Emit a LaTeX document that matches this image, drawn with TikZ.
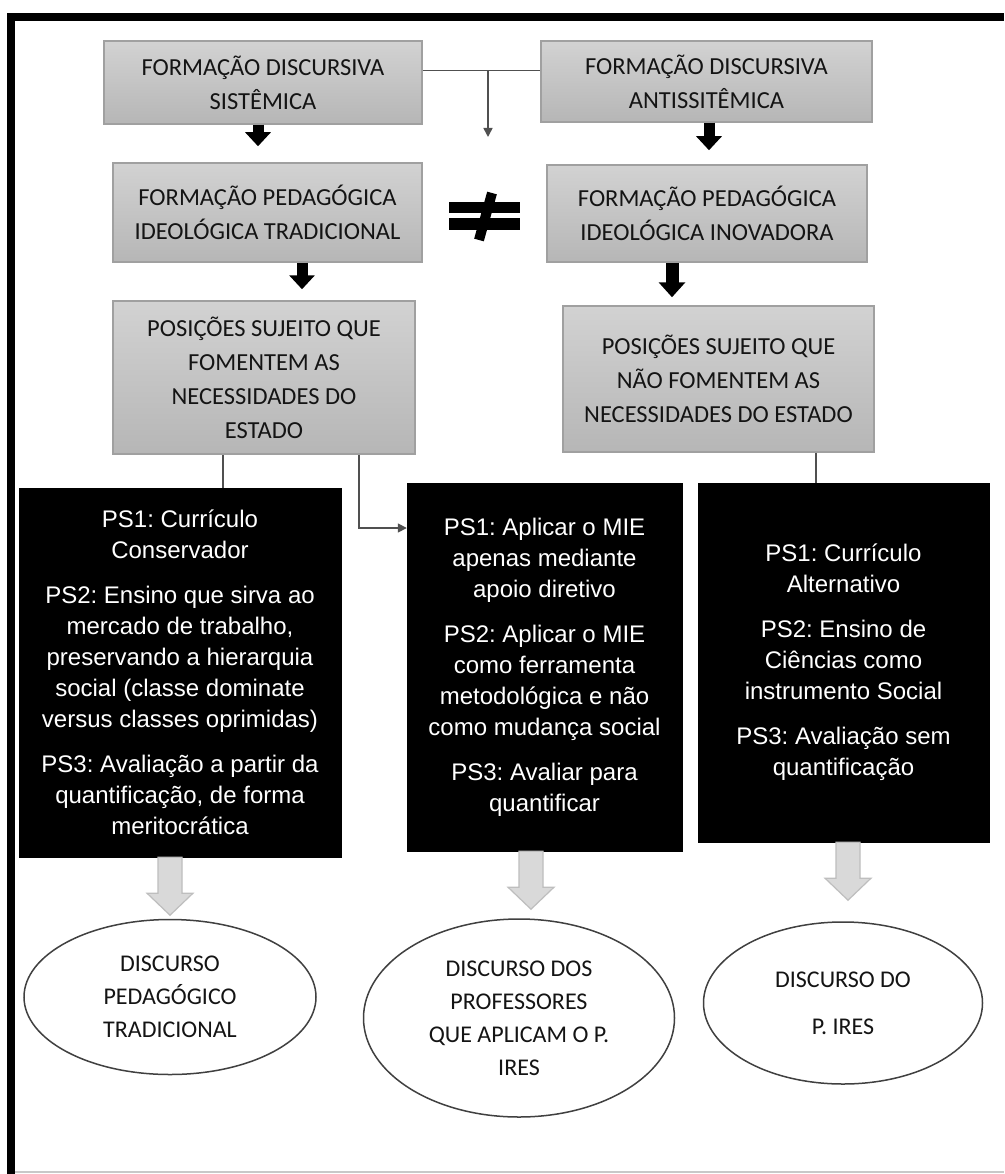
\documentclass[tikz,border=0pt]{standalone}
\usepackage{fontspec}
\newfontfamily\calfont{Carlito}
\newfontfamily\arifont{Liberation Sans}
\usetikzlibrary{arrows.meta,calc,shapes.geometric}
\definecolor{boxtop}{RGB}{210,210,210}
\definecolor{boxbot}{RGB}{182,182,182}
\definecolor{boxline}{RGB}{160,160,160}
\definecolor{conncol}{RGB}{80,80,80}
\definecolor{hollowfill}{RGB}{217,217,217}
\definecolor{hollowline}{RGB}{190,190,190}
\definecolor{txtdark}{RGB}{20,20,20}
\definecolor{bottomline}{RGB}{200,200,200}
\frenchspacing
\begin{document}
\begin{tikzpicture}[x=1pt,y=-1pt,
  graybox/.style={draw=boxline, line width=1.5pt, top color=boxtop, bottom color=boxbot,
    inner sep=0pt, align=center, font=\calfont\fontsize{24.5pt}{34pt}\selectfont, text=txtdark},
  blackbox/.style={fill=black, draw=black, inner sep=0pt, align=center, text=white,
    font=\arifont\fontsize{24pt}{31pt}\selectfont},
  discell/.style={ellipse, draw=black!75, line width=1.5pt, inner sep=0pt, align=center,
    font=\calfont\fontsize{24pt}{33pt}\selectfont, text=txtdark},
  conn/.style={draw=conncol, line width=1.6pt},
  thintip/.style={-{Triangle[width=9pt,length=9pt]}},
  blockarrow/.style={draw=black, line width=11pt, -{Triangle[width=25pt,length=14pt]}},
  pics/hollowarrow/.style={code={
    \draw[fill=hollowfill, draw=hollowline, line width=1.2pt]
      (-12,0) -- (12,0) -- (12,36) -- (23,36) -- (0,58) -- (-23,36) -- (-12,36) -- cycle;}}
]
\useasboundingbox (0,0) rectangle (1004,1174);
\fill[white] (0,0) rectangle (1004,1174);
% frame
\fill[black] (7,13) rectangle (1004,21);
\fill[black] (7,13) rectangle (15,1174);
\draw[bottomline, line width=1.5pt] (15,1172) -- (1004,1172);

% gray boxes
\node[graybox, minimum width=318pt, minimum height=83pt] (A) at (263,82.5)
  {FORMAÇÃO DISCURSIVA\\SISTÊMICA};
\node[graybox, minimum width=331pt, minimum height=81pt] (B) at (706.5,81.5)
  {FORMAÇÃO DISCURSIVA\\ANTISSITÊMICA};
\node[graybox, minimum width=309pt, minimum height=99pt] (C) at (267.5,212.5)
  {FORMAÇÃO PEDAGÓGICA\\IDEOLÓGICA TRADICIONAL};
\node[graybox, minimum width=320pt, minimum height=97pt] (D) at (707,213.5)
  {FORMAÇÃO PEDAGÓGICA\\IDEOLÓGICA INOVADORA};
\node[graybox, minimum width=302pt, minimum height=153pt] (E) at (264,377.5)
  {POSIÇÕES SUJEITO QUE\\FOMENTEM AS\\NECESSIDADES DO\\ESTADO};
\node[graybox, minimum width=311pt, minimum height=146pt] (F) at (718.5,379)
  {POSIÇÕES SUJEITO QUE\\NÃO FOMENTEM AS\\NECESSIDADES DO ESTADO};

% black boxes
\node[blackbox, minimum width=322pt, minimum height=369pt] (P1) at (180,672.5)
  {PS1: Currículo\\Conservador\\[14pt]PS2: Ensino que sirva ao\\mercado de trabalho,\\preservando a hierarquia\\social (classe dominate\\versus classes oprimidas)\\[14pt]PS3: Avaliação a partir da\\quantificação, de forma\\meritocrática};
\node[blackbox, minimum width=275pt, minimum height=368pt] (P2) at (544.5,667)
  {PS1: Aplicar o MIE\\apenas mediante\\apoio diretivo\\[14pt]PS2: Aplicar o MIE\\como ferramenta\\metodológica e não\\como mudança social\\[14pt]PS3: Avaliar para\\quantificar};
\node[blackbox, minimum width=291pt, minimum height=359pt] (P3) at (843.5,662.5)
  {PS1: Currículo\\Alternativo\\[14pt]PS2: Ensino de\\Ciências como\\instrumento Social\\[14pt]PS3: Avaliação sem\\quantificação};

% ellipses
\node[discell, minimum width=292pt, minimum height=155pt] (D1) at (170,997)
  {DISCURSO\\PEDAGÓGICO\\TRADICIONAL};
\node[discell, minimum width=311pt, minimum height=198pt] (D2) at (519,1018)
  {DISCURSO DOS\\PROFESSORES\\QUE APLICAM O P.\\IRES};
\node[discell, minimum width=279pt, minimum height=162pt] (D3) at (843,1003)
  {DISCURSO DO\\[14pt]P. IRES};

% not-equal sign
\fill[black] (449,202) rectangle (520,213);
\fill[black] (449,218) rectangle (520,230);
\draw[black, line width=10pt] (492,193) -- (479,240);

% top connector with branch arrow
\draw[conn] ([yshift=12pt]A.east) -- ([yshift=11pt]B.west);
\coordinate (br) at (488,70.5);
\coordinate (brend) at (488,137);
\draw[conn, thintip] (br) -- (brend);

% block arrows
\draw[blockarrow] ($(A.south)+(-5,0)$) -- ($(C.north)+(-9.5,-16)$);
\draw[blockarrow] ($(C.south)+(34.5,0)$) -- ($(E.north)+(38,-11)$);
\draw[blockarrow] ($(B.south)+(2.5,0)$) -- ($(D.north)+(2,-14)$);
\draw[blockarrow, line width=13pt, -{Triangle[width=26pt,length=15pt]}] ($(D.south)+(-35,0)$) -- ($(F.north)+(-46.5,-8)$);

% thin connectors to black boxes
\draw[conn] ([xshift=-41pt]E.south) -- ([xshift=-41pt]E.south |- P1.north);
\draw[conn, thintip] ([xshift=95pt]E.south) |- ([yshift=139pt]P2.west);
\draw[conn] ([xshift=97.5pt]F.south) -- ([xshift=97.5pt]F.south |- P3.north);

% hollow arrows
\pic at ([xshift=-10pt]P1.south) {hollowarrow};
\pic at ([xshift=-13.5pt]P2.south) {hollowarrow};
\pic at ([xshift=4.5pt]P3.south) {hollowarrow};
\end{tikzpicture}
\end{document}
